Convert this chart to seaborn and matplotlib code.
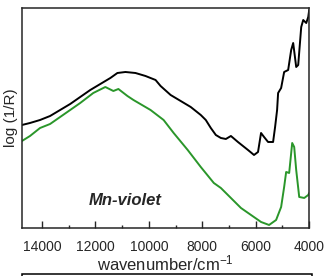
import pandas as pd
import matplotlib.pyplot as plt
import matplotlib.patches as patches
import seaborn as sns

# -------------------------------
# Data
# -------------------------------
black_wn = [14752, 14451, 14075, 13699, 13323, 12947, 12571, 12195, 11819, 11443,
            11180, 10879, 10503, 10127, 9751, 9563, 9187, 8811, 8435, 8059,
            7871, 7683, 7495, 7307, 7119, 6931, 6668, 6292, 6066, 5916,
            5803, 5690, 5540, 5352, 5277, 5202, 5164, 5051, 4938, 4788,
            4675, 4600, 4487, 4412, 4299, 4224, 4111, 4036, 4000]
black_val = [1.03, 1.05, 1.08, 1.12, 1.18, 1.24, 1.31, 1.38, 1.44, 1.50,
             1.55, 1.56, 1.55, 1.52, 1.48, 1.42, 1.33, 1.27, 1.21, 1.13,
             1.08, 1.00, 0.93, 0.90, 0.89, 0.92, 0.86, 0.78, 0.73, 0.76,
             0.95, 0.91, 0.86, 0.86, 1.01, 1.18, 1.35, 1.40, 1.56, 1.58,
             1.78, 1.85, 1.61, 1.63, 2.01, 2.08, 2.05, 2.11, 2.18]

green_wn = [14752, 14451, 14075, 13699, 13323, 12947, 12571, 12082, 11631, 11330,
            11142, 10804, 10578, 9939, 9450, 9074, 8548, 8059, 7571, 7307,
            6931, 6555, 6179, 5803, 5502, 5239, 5051, 4938, 4863, 4750,
            4637, 4562, 4487, 4374, 4186, 4036, 4000]
green_val = [0.87, 0.92, 1.00, 1.04, 1.11, 1.18, 1.25, 1.35, 1.41, 1.37,
             1.39, 1.32, 1.28, 1.18, 1.08, 0.95, 0.78, 0.61, 0.45, 0.40,
             0.30, 0.20, 0.13, 0.06, 0.03, 0.08, 0.21, 0.41, 0.56, 0.55,
             0.85, 0.81, 0.58, 0.31, 0.30, 0.33, 0.35]

df_black = pd.DataFrame({'wn': black_wn, 'val': black_val})
df_green = pd.DataFrame({'wn': green_wn, 'val': green_val})

# -------------------------------
# Plot
# -------------------------------
sns.set_style("ticks")
plt.rcParams['font.family'] = ['Liberation Sans', 'DejaVu Sans']
plt.rcParams['mathtext.default'] = 'regular'

fig = plt.figure(figsize=(3.26, 2.76), dpi=100)
ax = fig.add_axes([0.0675, 0.174, 0.881, 0.797])

sns.lineplot(x='wn', y='val', data=df_black, color='black', linewidth=1.4, ax=ax)
sns.lineplot(x='wn', y='val', data=df_green, color='#2a962a', linewidth=1.4, ax=ax)

ax.set_xlim(14750, 4000)
ax.set_ylim(0, 2.2)
ax.set_xticks([14000, 12000, 10000, 8000, 6000, 4000])
ax.set_xticks([13000, 11000, 9000, 7000, 5000], minor=True)
ax.set_yticks([])
ax.tick_params(axis='x', which='major', direction='in', length=5, width=1, labelsize=10, pad=9)
ax.tick_params(axis='x', which='minor', direction='in', length=2.5, width=1)

for s in ax.spines.values():
    s.set_linewidth(1.1)
    s.set_visible(True)

ax.set_xlabel("wavenumber/cm$^{-1}$", fontsize=12, labelpad=-1)
ax.set_ylabel("log (1/R)", fontsize=11, labelpad=3)

ax.text(0.36, 0.123, "Mn-violet", transform=ax.transAxes, fontsize=12,
        fontweight='bold', fontstyle='italic', ha='center', va='center')

# top edge of the panel below
fig.patches.append(patches.Rectangle((0.0675, -0.05), 0.89, 0.057, transform=fig.transFigure,
                                     fill=False, edgecolor='black', linewidth=1.1))

plt.savefig("out.png", dpi=100)
